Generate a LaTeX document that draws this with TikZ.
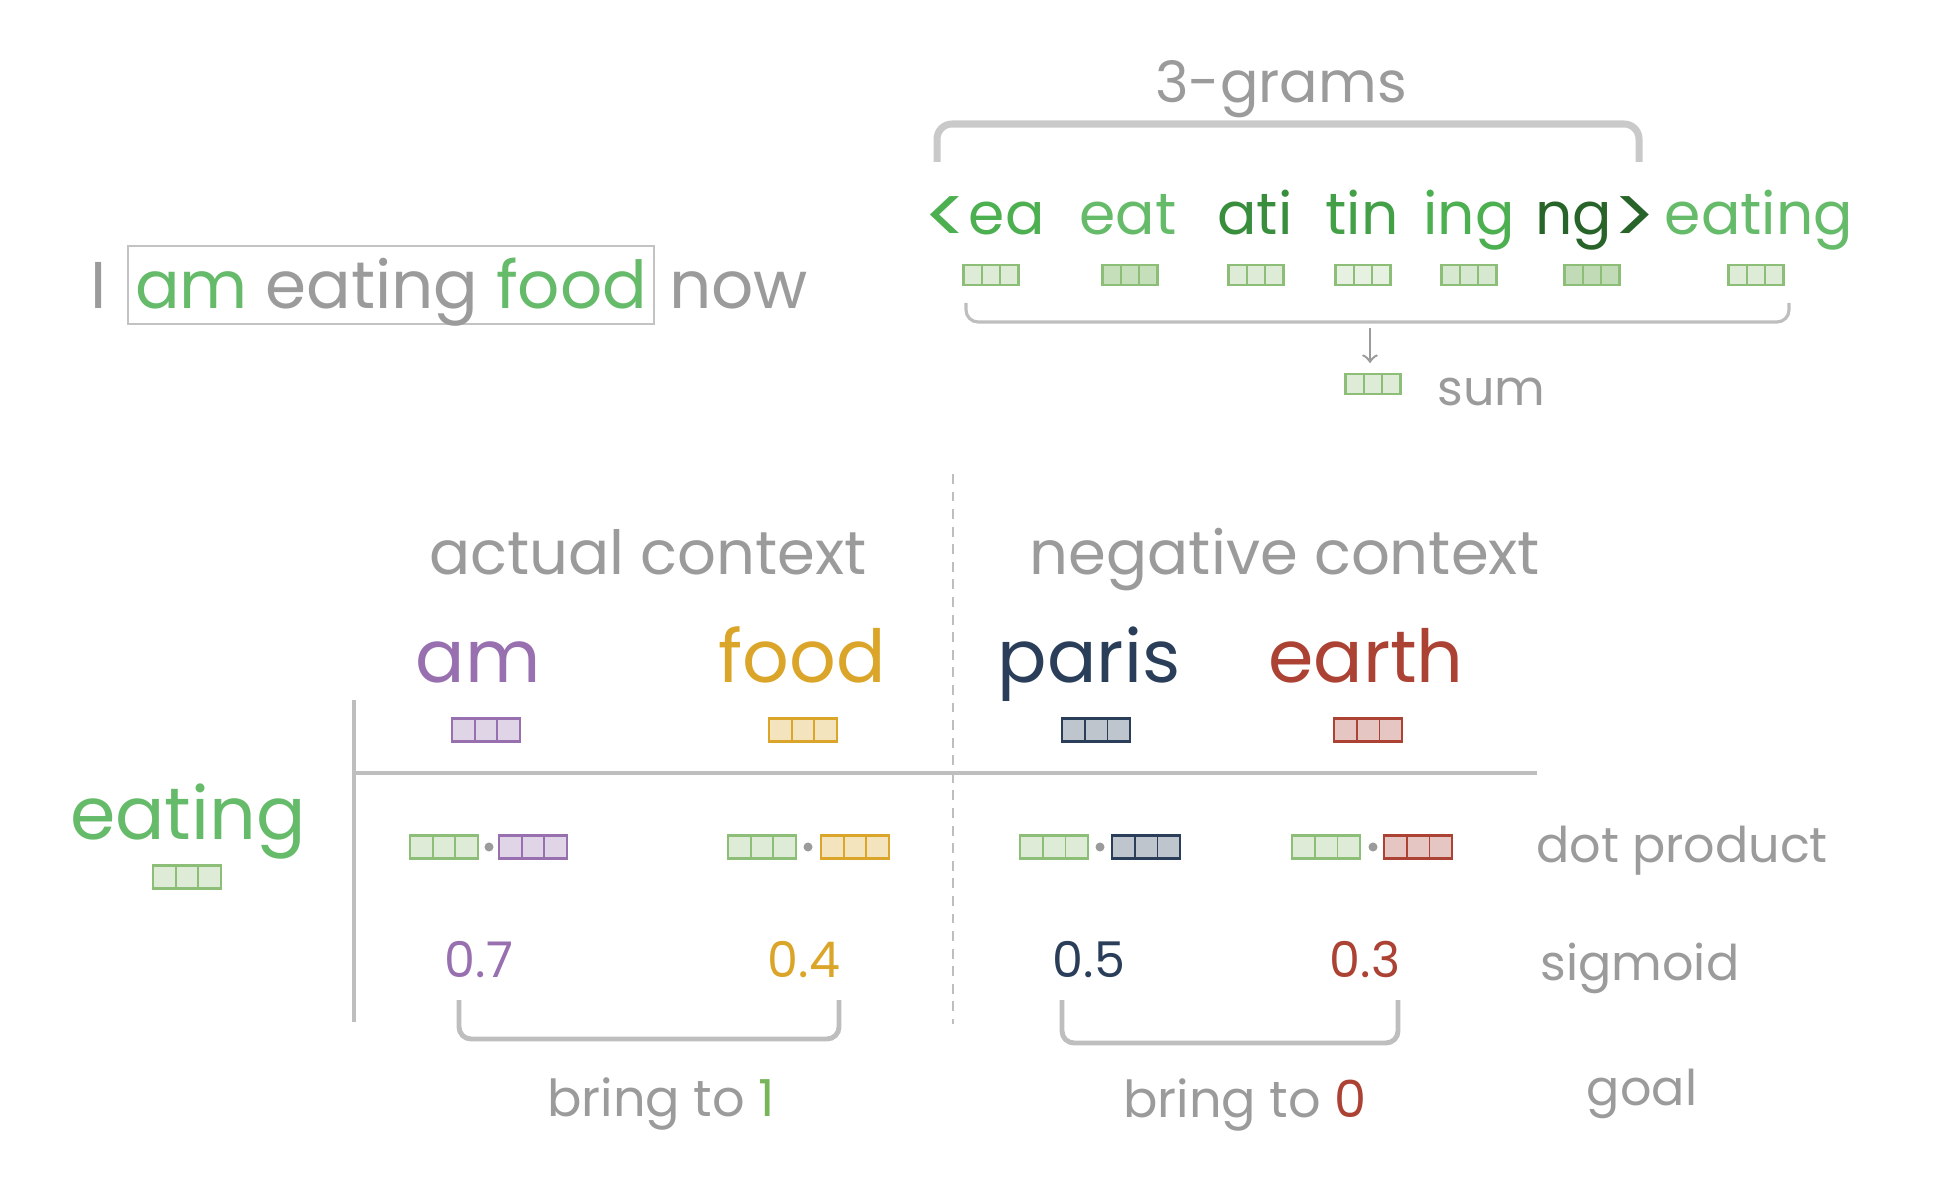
\documentclass[tikz,border=0pt]{standalone}
\usepackage{fontspec}
\setmainfont{Poppins}
\usetikzlibrary{positioning,calc}

\definecolor{txtgray}{RGB}{155,155,155}
\definecolor{boxgray}{RGB}{195,195,195}
\definecolor{lngray}{RGB}{190,190,190}
\definecolor{grn}{RGB}{102,187,106}
\definecolor{grnA}{RGB}{76,175,80}
\definecolor{grnC}{RGB}{56,142,60}
\definecolor{grnD}{RGB}{67,160,71}
\definecolor{grnF}{RGB}{40,100,42}
\definecolor{vecgrn}{RGB}{140,190,120}
\definecolor{amcol}{RGB}{152,112,175}
\definecolor{foodcol}{RGB}{218,165,40}
\definecolor{pariscol}{RGB}{42,62,90}
\definecolor{earthcol}{RGB}{172,66,52}
\definecolor{onecol}{RGB}{120,180,90}

\newcommand{\bigless}{\raisebox{-0.17em}{\scalebox{1.4}[1.38]{<}}}
\newcommand{\bigmore}{\raisebox{-0.17em}{\scalebox{1.4}[1.38]{>}}}

\tikzset{
  word/.style={inner sep=0pt, text=txtgray, anchor=base},
  sentfont/.style={font=\fontsize{18.8pt}{23pt}\selectfont},
  headfont/.style={font=\fontsize{17.3pt}{21pt}\selectfont},
  trifont/.style={font=\fontsize{16.2pt}{20pt}\selectfont},
  gramfont/.style={font=\fontsize{16.6pt}{20pt}\selectfont},
  bigfont/.style={font=\fontsize{20.8pt}{25pt}\selectfont},
  rowfont/.style={font=\fontsize{14pt}{17pt}\selectfont},
  valfont/.style={font=\fontsize{14pt}{17pt}\selectfont},
  vecbox/.style={draw=#1, fill=#1!30, line width=0.6pt, inner sep=0pt,
    minimum width=0.68cm, minimum height=0.23cm,
    path picture={\foreach \f in {0.333,0.667}
      \draw[#1, line width=0.5pt]
        ($(path picture bounding box.south west)!\f!(path picture bounding box.south east)$) --
        ($(path picture bounding box.north west)!\f!(path picture bounding box.north east)$);}},
  gramvec/.style={vecbox=#1, minimum width=0.55cm, minimum height=0.2cm},
  dotsym/.style={circle, fill=txtgray, inner sep=0pt, minimum size=0.09cm},
  brace/.style={lngray, line width=1.4pt, rounded corners=0.12cm},
}

\begin{document}
\begin{tikzpicture}[x=0.01cm, y=-0.01cm]
\useasboundingbox (0,0) rectangle (1940,1183);

% the sentence, context window boxed
\node[word, sentfont, anchor=base west, draw=boxgray, line width=0.6pt,
  inner xsep=0.07cm, inner ysep=0pt, text height=0.63cm, text depth=0.15cm]
  (ctxbox) at (127,309) {\textcolor{grn}{am} eating \textcolor{grn}{food}};
\node[word, sentfont, base left=0.2cm of ctxbox] (wI) {I};
\node[word, sentfont, base right=0.13cm of ctxbox] (wnow) {now};

% 3-grams of eating
\node[word, trifont] (tri) at (1281,103) {3-grams};
\draw[brace, line width=2pt, boxgray!90, rounded corners=0.15cm]
  (937,162) -- (937,124) -- (1639,124) -- (1639,162);

\node[word, gramfont, text=grnA] (g1) at (984,235) {\bigless ea};
\node[word, gramfont, text=grn] (g2) at (1128,235) {eat};
\node[word, gramfont, text=grnC] (g3) at (1255,235) {ati};
\node[word, gramfont, text=grnD] (g4) at (1362,235) {tin};
\node[word, gramfont, text=grnA] (g5) at (1469,235) {ing};
\node[word, gramfont, text=grnF] (g6) at (1596,235) {ng\bigmore};
\node[word, gramfont, text=grn] (g7) at (1759,235) {eating};

\node[gramvec=vecgrn, fill=vecgrn!30] (v1) at (991,275) {};
\node[gramvec=vecgrn, fill=vecgrn!50] (v2) at (1130,275) {};
\node[gramvec=vecgrn, fill=vecgrn!30] (v3) at (1256,275) {};
\node[gramvec=vecgrn, fill=vecgrn!22] (v4) at (1363,275) {};
\node[gramvec=vecgrn, fill=vecgrn!35] (v5) at (1469,275) {};
\node[gramvec=vecgrn, fill=vecgrn!55] (v6) at (1592,275) {};
\node[gramvec=vecgrn, fill=vecgrn!30] (v7) at (1756,275) {};

\draw[brace, line width=0.9pt] (966,303) -- (966,322) -- (1789,322) -- (1789,303);
\coordinate (sumtop) at (1370,328);
\node[gramvec=vecgrn] (vsum) at (1373,384) {};
\draw[->, txtgray, line width=0.7pt, shorten >=0.1cm] (sumtop) -- (sumtop |- vsum.north);
\node[word, rowfont, anchor=base west] (sumlbl) at (1437,406) {sum};

% context table
\node[word, headfont] (hact) at (648,575) {actual context};
\node[word, headfont] (hneg) at (1285,575) {negative context};
\draw[lngray, line width=0.6pt, dash pattern=on 2.8pt off 2.2pt] (953,474) -- (953,1024);
\draw[lngray, line width=1.2pt] (354,700) -- (354,1022);
\draw[lngray, line width=1.2pt] (354,773) -- (1537,773);

\node[word, bigfont, text=amcol] (cam) at (478,683) {am};
\node[word, bigfont, text=foodcol] (cfood) at (802,683) {food};
\node[word, bigfont, text=pariscol] (cparis) at (1089,683) {paris};
\node[word, bigfont, text=earthcol] (cearth) at (1366,683) {earth};

\node[vecbox=amcol] (vam) at (486,730) {};
\node[vecbox=foodcol] (vfood) at (803,730) {};
\node[vecbox=pariscol] (vparis) at (1096,730) {};
\node[vecbox=earthcol] (vearth) at (1368,730) {};

\node[word, bigfont, text=grn] (ceat) at (188,839) {eating};
\node[vecbox=vecgrn] (veat) at (187,877) {};

% dot products
\node[vecbox=vecgrn] (pam1) at (444,847) {};
\node[dotsym] (pamdot) at (489,847) {};
\node[vecbox=amcol] (pam2) at (533,847) {};
\node[vecbox=vecgrn] (pfood1) at (762,847) {};
\node[dotsym] (pfooddot) at (808,847) {};
\node[vecbox=foodcol] (pfood2) at (855,847) {};
\node[vecbox=vecgrn] (pparis1) at (1054,847) {};
\node[dotsym] (pparisdot) at (1100,847) {};
\node[vecbox=pariscol] (pparis2) at (1146,847) {};
\node[vecbox=vecgrn] (pearth1) at (1326,847) {};
\node[dotsym] (pearthdot) at (1373,847) {};
\node[vecbox=earthcol] (pearth2) at (1418,847) {};
\node[word, rowfont] (ldot) at (1682,862) {dot product};

% sigmoid
\node[word, valfont, text=amcol] (sam) at (479,977) {0.7};
\node[word, valfont, text=foodcol] (sfood) at (804,977) {0.4};
\node[word, valfont, text=pariscol] (sparis) at (1089,977) {0.5};
\node[word, valfont, text=earthcol] (searth) at (1365,977) {0.3};
\node[word, rowfont] (lsig) at (1640,980) {sigmoid};

% goal
\draw[brace] (459,1000) -- (459,1039) -- (839,1039) -- (839,1000);
\draw[brace] (1062,1000) -- (1062,1043) -- (1398,1043) -- (1398,1000);
\node[word, rowfont, font=\fontsize{14.5pt}{17pt}\selectfont] (gpos) at (661,1116) {bring to \textcolor{onecol}{1}};
\node[word, rowfont, font=\fontsize{14.5pt}{17pt}\selectfont] (gneg) at (1245,1117) {bring to \textcolor{earthcol}{0}};
\node[word, rowfont] (lgoal) at (1642,1105) {goal};
\end{tikzpicture}
\end{document}
